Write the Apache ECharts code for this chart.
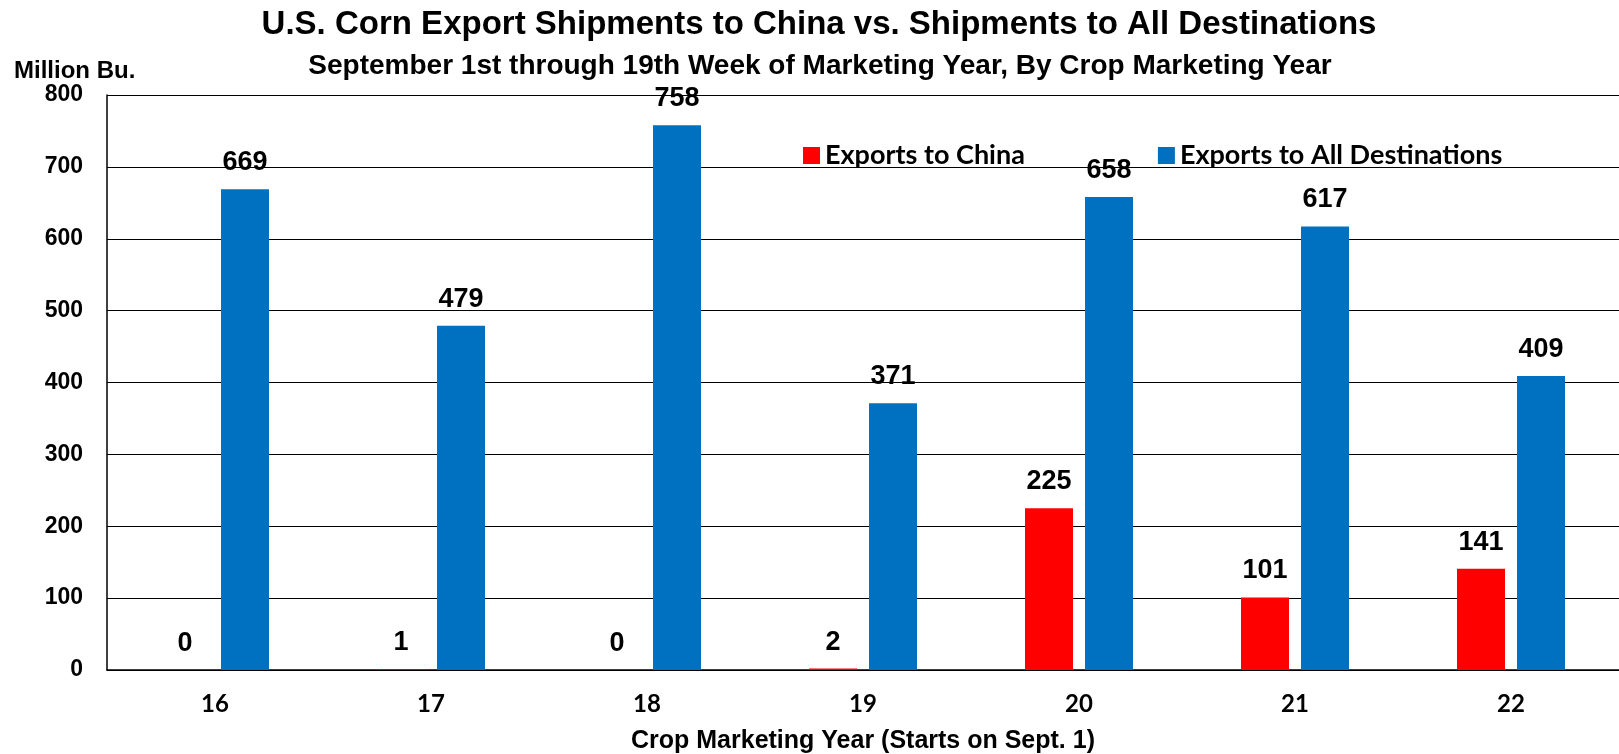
<!DOCTYPE html>
<html><head><meta charset="utf-8">
<script src="https://cdn.jsdelivr.net/npm/echarts@6/dist/echarts.min.js"></script>
<style>html,body{margin:0;padding:0;background:#fff}#c{width:1619px;height:754px}</style>
</head><body><div id="c"></div>
<script>
const categories = ['16','17','18','19','20','21','22'];
const chinaExports = [0, 1, 0, 2, 225, 101, 141];
const allExports = [669, 479, 758, 371, 658, 617, 409];
const yTicks = [0, 100, 200, 300, 400, 500, 600, 700, 800];

const chart = echarts.init(document.getElementById('c'));
const labelStyle = {show:true, position:'top', distance:13, color:'#000', fontFamily:'Liberation Sans, Arial', fontWeight:'bold', fontSize:27};
chart.setOption({
  animation:false,
  backgroundColor:'#fff',
  title:[
    {text:'U.S. Corn Export Shipments to China vs. Shipments to All Destinations', left:814, top:3, textAlign:'center',
     textStyle:{fontFamily:'Liberation Sans, Arial', fontWeight:'bold', fontSize:33, color:'#000'}},
    {text:'September 1st through 19th Week of Marketing Year, By Crop Marketing Year', left:815, top:47, textAlign:'center',
     textStyle:{fontFamily:'Liberation Sans, Arial', fontWeight:'bold', fontSize:28, color:'#000'}},
    {text:'Million Bu.', left:9, top:54,
     textStyle:{fontFamily:'Liberation Sans, Arial', fontWeight:'bold', fontSize:24, color:'#000'}}
  ],
  legend:{left:798, top:137, itemWidth:17, itemHeight:17, itemGap:133, icon:'rect',
    textStyle:{fontFamily:'Lato', fontWeight:'bold', fontSize:27, color:'#000'},
    data:['Exports to China','Exports to All Destinations']},
  grid:{left:107, right:0, top:95, bottom:84, outerBoundsMode:'none', containLabel:false},
  xAxis:{type:'category', data:categories,
    axisLine:{lineStyle:{color:'#000', width:1.5}}, axisTick:{show:false},
    axisLabel:{margin:22, color:'#000', fontFamily:'Lato', fontWeight:'bold', fontSize:24},
    name:'Crop Marketing Year (Starts on Sept. 1)', nameLocation:'middle', nameGap:59,
    nameTextStyle:{fontFamily:'Liberation Sans, Arial', fontWeight:'bold', fontSize:25, color:'#000'}},
  yAxis:{type:'value', min:yTicks[0], max:yTicks[yTicks.length-1], interval:100,
    axisLine:{show:true, lineStyle:{color:'#000', width:1.5}}, axisTick:{show:false},
    splitLine:{lineStyle:{color:'#000', width:1.2}},
    axisLabel:{margin:24, color:'#000', fontFamily:'Liberation Sans, Arial', fontWeight:'bold', fontSize:23}},
  series:[
    {name:'Exports to China', type:'bar', data:chinaExports, barWidth:48, barGap:'25%',
     itemStyle:{color:'#FF0000'}, label:labelStyle},
    {name:'Exports to All Destinations', type:'bar', data:allExports, barWidth:48,
     itemStyle:{color:'#0070C0'}, label:labelStyle}
  ]
});
</script></body></html>
